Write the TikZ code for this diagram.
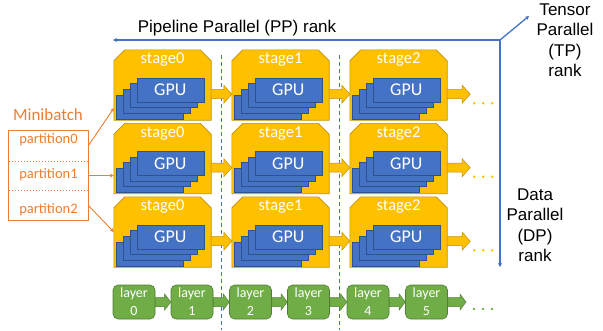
\documentclass[tikz,border=0pt]{standalone}
\usepackage{fontspec}
\setmainfont{Carlito}
\newfontfamily\arialf{Liberation Sans}
\usetikzlibrary{calc,arrows.meta}
\definecolor{gold}{HTML}{FFC000}
\definecolor{goldline}{HTML}{BF9000}
\definecolor{gpublue}{HTML}{4472C4}
\definecolor{gpuline}{HTML}{2F528F}
\definecolor{lgreen}{HTML}{70AD47}
\definecolor{lgreenline}{HTML}{507E32}
\definecolor{orng}{HTML}{ED7D31}
\definecolor{axisblue}{HTML}{4472C4}
\newcommand\blkarrow[6]{\draw[#1] let \p1=(#2),\p2=(#3) in (\x1,\y1+#4) -- (\x2-#6,\y1+#4) -- (\x2-#6,\y1+#5) -- (\x2,\y1) -- (\x2-#6,\y1-#5) -- (\x2-#6,\y1-#4) -- (\x1,\y1-#4) -- cycle;}
\begin{document}
\begin{tikzpicture}[x=1pt,y=-1pt,
  stagebg/.style={rectangle, minimum width=97pt, minimum height=70pt, inner sep=0pt, draw=none},
  stageshape/.style={fill=gold, draw=goldline, line width=0.6pt},
  gpubox/.style={rectangle, fill=gpublue, draw=gpuline, line width=0.6pt, minimum width=67pt, minimum height=24pt, inner sep=0pt, text=white, font=\fontsize{18}{20}\selectfont},
  stagelbl/.style={text=white, font=\fontsize{16.5}{18}\selectfont, inner sep=0pt},
  goldarr/.style={fill=gold, draw=goldline, line width=0.5pt},
  greenarr/.style={fill=lgreen, draw=lgreenline, line width=0.5pt},
  layerbox/.style={rectangle, rounded corners=5pt, fill=lgreen, draw=lgreenline, line width=0.6pt, minimum width=42pt, minimum height=34pt, inner sep=0pt, text=white, align=center, font=\fontsize{14}{18}\selectfont},
  sepline/.style={axisblue, dash pattern=on 4pt off 3pt, line width=0.9pt},
  axisline/.style={axisblue, line width=1.3pt, -{Stealth[length=4pt,width=4pt]}},
  axislbl/.style={align=center, font=\arialf\fontsize{17}{20.5}\selectfont, inner sep=0pt},
  mbcell/.style={rectangle, minimum width=79pt, minimum height=29.7pt, inner sep=0pt},
  mbtext/.style={text=orng, font=\fontsize{14.5}{16}\selectfont, inner sep=0pt},
  mbline/.style={orng, line width=0.9pt, -{Stealth[length=4pt,width=4pt]}}
]
\useasboundingbox (0,0) rectangle (603,330);

% separators
\draw[sepline] (221.5,55) -- (221.5,330);
\draw[sepline] (339.5,55) -- (339.5,330);

% stages
\foreach \r/\yt in {0/50,1/123.5,2/197}{
  \foreach \c/\xl in {0/114,1/232,2/350}{
    \node[stagebg] (s\r\c) at (\xl+48.5,\yt+35) {};
    \draw[stageshape] (s\r\c.south west) -- ($(s\r\c.north west)+(0,11)$) -- ($(s\r\c.north west)+(11,0)$) -- ($(s\r\c.north east)+(-11,0)$) -- ($(s\r\c.north east)+(0,11)$) -- (s\r\c.south east) -- cycle;
    \node[stagelbl] (sl\r\c) at ($(s\r\c.north)+(0,10)$) {stage\c};
    \foreach \i in {3,2,1,0}{
      \node[gpubox] (g\r\c\i) at ($(s\r\c.north west)+(56.5-6.7*\i,40+5.7*\i)$) {GPU};
    }
  }
}

% stage arrows
\foreach \r in {0,1,2}{
  \blkarrow{goldarr}{$(s\r0.south east)+(0,-26)$}{$(s\r1.south west)+(0,-26)$}{4.5pt}{9pt}{8pt}
  \blkarrow{goldarr}{$(s\r1.south east)+(0,-26)$}{$(s\r2.south west)+(0,-26)$}{4.5pt}{9pt}{8pt}
  \coordinate (e\r) at ($(s\r2.south east)+(23,-26)$);
  \blkarrow{goldarr}{$(s\r2.south east)+(0,-26)$}{e\r}{4.5pt}{9pt}{8pt}
  \foreach \k in {0,1,2}{
    \fill[gold] ($(e\r)+(4+9*\k,9)$) circle (1.4pt);
  }
}

% layers
\foreach \k/\xc in {0/134,1/192,2/250.5,3/308.5,4/368,5/426.5}{
  \node[layerbox] (l\k) at (\xc,302) {layer\\\k};
}
\foreach \a/\b in {0/1,1/2,2/3,3/4,4/5}{
  \blkarrow{greenarr}{l\a.east}{l\b.west}{4.5pt}{8pt}{6pt}
}
\coordinate (le) at (466,302);
\blkarrow{greenarr}{l5.east}{le}{4.5pt}{8pt}{6pt}
\foreach \k in {0,1,2}{
  \fill[lgreen] ($(le)+(8+9*\k,7)$) circle (1.4pt);
}

% minibatch
\node[mbtext, font=\fontsize{17}{19}\selectfont] (mb) at (48,115) {Minibatch};
\node[mbcell] (p0) at (48.5,145.85) {};
\node[mbcell] (p1) at (48.5,175.55) {};
\node[mbcell] (p2) at (48.5,205.25) {};
\draw[orng, line width=0.9pt] (p0.north west) rectangle (p2.south east);
\draw[orng, dash pattern=on 1.5pt off 1.5pt, line width=0.7pt] (p0.south west) -- (p0.south east);
\draw[orng, dash pattern=on 1.5pt off 1.5pt, line width=0.7pt] (p1.south west) -- (p1.south east);
\node[mbtext] (t0) at (48.5,140) {partition0};
\node[mbtext] (t1) at (48.5,175) {partition1};
\node[mbtext] (t2) at (48.5,210) {partition2};
\draw[mbline] (p0.east) -- ($(s00.south west)+(0,-12)$);
\draw[mbline] (p1.east) -- (p1.east -| s10.west);
\draw[mbline] (p2.east) -- (s20.west);

% axes
\coordinate (o) at (500,40);
\coordinate (ppe) at (113,40);
\coordinate (dpe) at (500,267);
\coordinate (tpe) at (529,16);
\draw[axisline] (o) -- (ppe);
\draw[axisline] (o) -- (dpe);
\draw[axisline] (o) -- (tpe);
\node[axislbl] (pp) at (237,28) {Pipeline Parallel (PP) rank};
\node[axislbl] (tp) at (565,40) {Tensor\\Parallel\\(TP)\\rank};
\node[axislbl] (dp) at (535,225) {Data\\Parallel\\(DP)\\rank};
\end{tikzpicture}
\end{document}
